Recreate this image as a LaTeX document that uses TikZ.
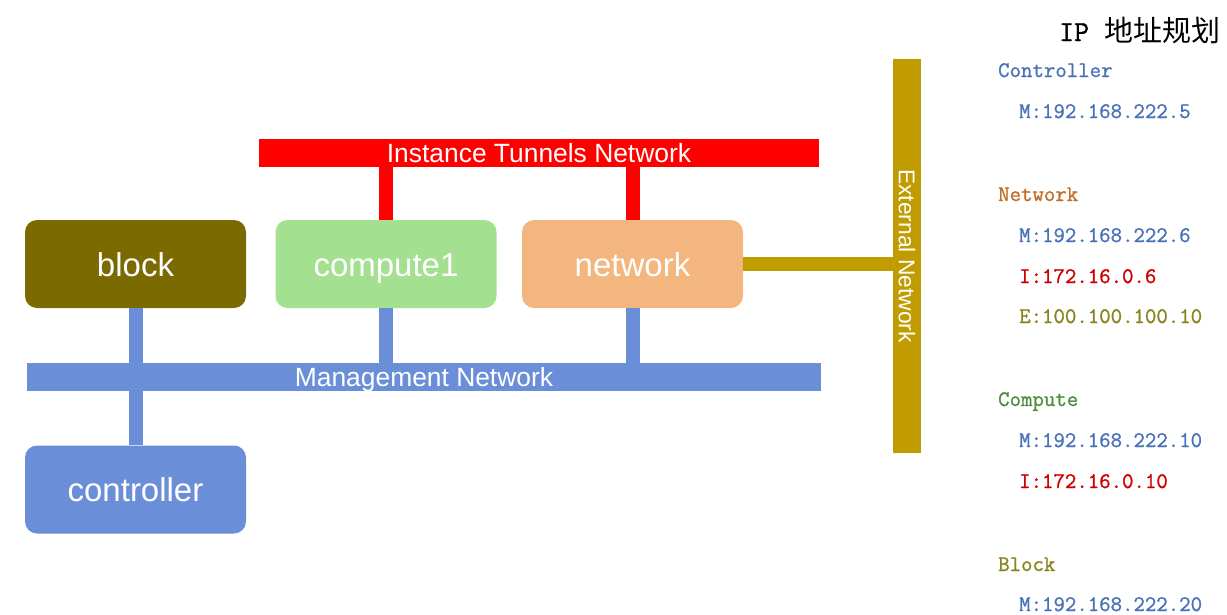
\documentclass[tikz,border=0pt]{standalone}
\usepackage{fontspec}
\setmainfont{Liberation Sans}
\newfontfamily\cjk{Noto Sans CJK SC}
\newfontfamily\ipmono[FakeBold=1.2]{Latin Modern Mono}
\definecolor{blockc}{HTML}{7B6A00}
\definecolor{computec}{HTML}{A3E08F}
\definecolor{networkc}{HTML}{F4B67F}
\definecolor{mgmtc}{HTML}{6A8FD8}
\definecolor{tunnelc}{HTML}{FF0000}
\definecolor{extc}{HTML}{C09C00}
\definecolor{ipblue}{HTML}{4A72B8}
\definecolor{iporange}{HTML}{C0702A}
\definecolor{ipred}{HTML}{D00000}
\definecolor{ipolive}{HTML}{8A8420}
\definecolor{ipgreen}{HTML}{4F8F3F}
\tikzset{
  host/.style={rounded corners=12pt, minimum width=221pt, minimum height=88pt, inner sep=0pt, text=white,
    font=\fontsize{33}{36}\selectfont, text height=28pt, text depth=4pt},
  bar/.style={inner sep=0pt, text=white, font=\fontsize{26.4}{28}\selectfont, text height=19pt, text depth=0pt},
  link/.style={line width=14pt},
  iptxt/.style={anchor=base west, inner sep=0pt, font=\ipmono\fontsize{22.2}{26}\selectfont},
}
\begin{document}
\begin{tikzpicture}[x=1pt,y=-1pt]
\useasboundingbox (0,0) rectangle (1227,614);
% bars
\node[bar, fill=tunnelc, minimum width=560pt, minimum height=28pt] (tunnel) at (539,153) {Instance Tunnels Network};
\node[bar, fill=mgmtc, minimum width=794pt, minimum height=28pt] (mgmt) at (424,377) {Management Network};
\node[bar, fill=extc, minimum width=28pt, minimum height=394pt] (ext) at (907,256) {};
\node[text=white, font=\fontsize{22.8}{24}\selectfont, rotate=-90, inner sep=0pt, text height=16.3pt, text depth=0pt] (exttxt) at (ext.center) {External Network};
% hosts
\node[host, fill=blockc] (block) at (135.5,264) {block};
\node[host, fill=computec] (compute1) at (386,264) {compute1};
\node[host, fill=networkc] (network) at (632.5,264) {network};
\node[host, fill=mgmtc] (controller) at (135.5,489.5) {controller};
% connectors
\draw[link, draw=tunnelc] (compute1.north) -- (compute1.north |- tunnel.south);
\draw[link, draw=tunnelc] (network.north) -- (network.north |- tunnel.south);
\draw[link, draw=mgmtc] (block.south) -- (controller.north);
\draw[link, draw=mgmtc] (compute1.south) -- (compute1.south |- mgmt.north);
\draw[link, draw=mgmtc] (network.south) -- (network.south |- mgmt.north);
\draw[link, draw=extc] (network.east) -- (network.east -| ext.west);
% IP plan
\node[anchor=base west, inner sep=0pt] (title) at (1059,41) {\ipmono\fontsize{29}{32}\selectfont IP \cjk\fontsize{29}{32}\selectfont 地址规划};
\node[iptxt, text=ipblue] (c0) at (998,77) {Controller};
\node[iptxt, text=ipblue] (c1) at (1019,118) {M:192.168.222.5};
\node[iptxt, text=iporange] (n0) at (998,201) {Network};
\node[iptxt, text=ipblue] (n1) at (1019,242) {M:192.168.222.6};
\node[iptxt, text=ipred] (n2) at (1019,283) {I:172.16.0.6};
\node[iptxt, text=ipolive] (n3) at (1019,323) {E:100.100.100.10};
\node[iptxt, text=ipgreen] (p0) at (998,406) {Compute};
\node[iptxt, text=ipblue] (p1) at (1019,447) {M:192.168.222.10};
\node[iptxt, text=ipred] (p2) at (1019,488) {I:172.16.0.10};
\node[iptxt, text=ipolive] (b0) at (998,571) {Block};
\node[iptxt, text=ipblue] (b1) at (1019,611) {M:192.168.222.20};
\end{tikzpicture}
\end{document}
